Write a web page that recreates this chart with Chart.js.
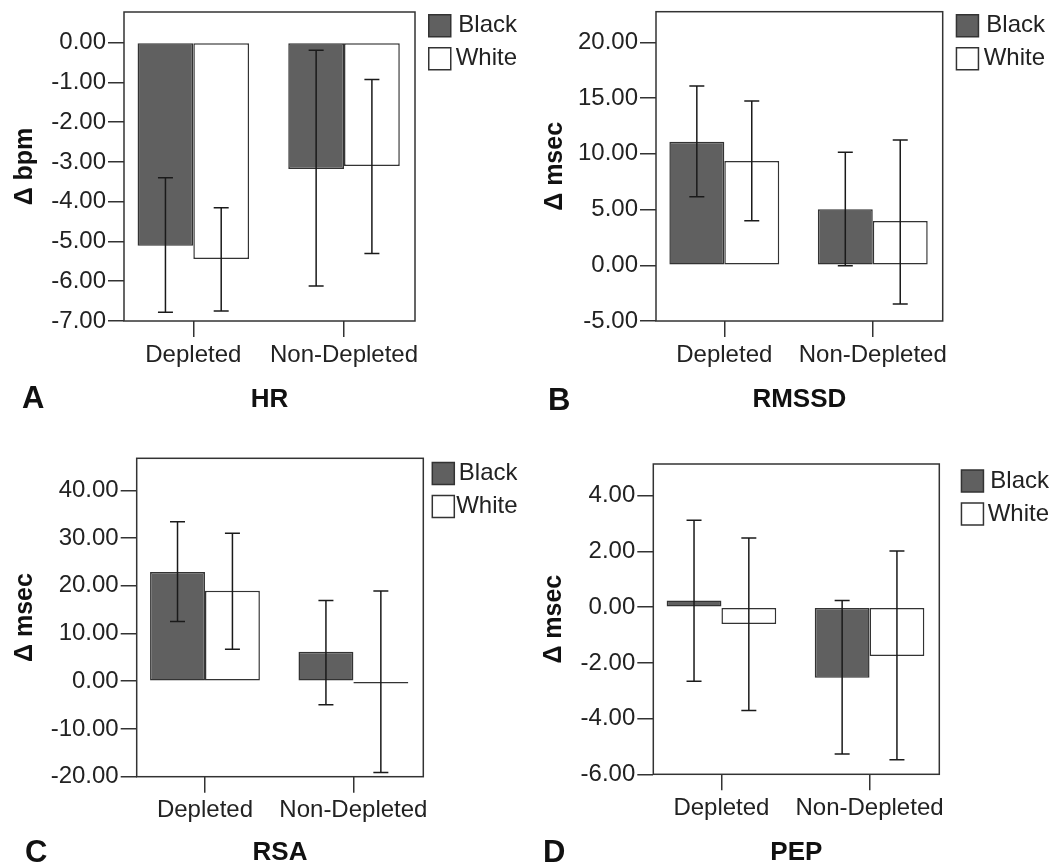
<!DOCTYPE html>
<html>
<head>
<meta charset="utf-8">
<script src="https://cdn.jsdelivr.net/npm/chart.js@4.4.1/dist/chart.umd.min.js"></script>
<style>
  html, body { margin: 0; padding: 0; background: #fff; }
  #page { position: relative; width: 1058px; height: 868px; overflow: hidden; background: #fff; }
  .panel { position: absolute; }
  .panel canvas { display: block; }
  .letter { position: absolute; font: bold 31px "Liberation Sans", Arial, sans-serif; line-height: 31px; color: #111; }
</style>
</head>
<body>
<div id="page">
  <div class="panel" style="left:0;top:0"><canvas id="hr" width="530" height="430"></canvas></div>
  <div class="panel" style="left:530px;top:0"><canvas id="rmssd" width="528" height="430"></canvas></div>
  <div class="panel" style="left:0;top:430px"><canvas id="rsa" width="530" height="438"></canvas></div>
  <div class="panel" style="left:530px;top:430px"><canvas id="pep" width="528" height="438"></canvas></div>
  <div class="letter" style="left:22px;top:382px">A</div>
  <div class="letter" style="left:548px;top:384px">B</div>
  <div class="letter" style="left:25px;top:836px">C</div>
  <div class="letter" style="left:543px;top:836px">D</div>
</div>
<script>
const groups = ["Depleted", "Non-Depleted"];
const groupTicks = [0, 1];

// HR, change in bpm
const hrBlack = [-5.11, -3.18];
const hrWhite = [-5.44, -3.10];
const hrBlackLow = [-6.78, -6.12];
const hrBlackHigh = [-3.40, -0.19];
const hrWhiteLow = [-6.75, -5.30];
const hrWhiteHigh = [-4.15, -0.93];
const hrTicks = [-7, -6, -5, -4, -3, -2, -1, 0];

// RMSSD, change in msec
const rmssdBlack = [11.08, 5.02];
const rmssdWhite = [9.35, 3.97];
const rmssdBlackLow = [6.15, -0.05];
const rmssdBlackHigh = [16.08, 10.13];
const rmssdWhiteLow = [4.00, -3.48];
const rmssdWhiteHigh = [14.73, 11.23];
const rmssdTicks = [-5, 0, 5, 10, 15, 20];

// RSA, change in msec
const rsaBlack = [22.9, 6.2];
const rsaWhite = [18.95, -0.45];
const rsaBlackLow = [12.5, -4.95];
const rsaBlackHigh = [33.4, 16.9];
const rsaWhiteLow = [6.7, -19.1];
const rsaWhiteHigh = [31.0, 18.9];
const rsaTicks = [-20, -10, 0, 10, 20, 30, 40];

// PEP, change in msec
const pepBlack = [0.24, -2.53];
const pepWhite = [-0.60, -1.75];
const pepBlackLow = [-2.66, -5.27];
const pepBlackHigh = [3.12, 0.24];
const pepWhiteLow = [-3.71, -5.48];
const pepWhiteHigh = [2.48, 2.02];
const pepTicks = [-6, -4, -2, 0, 2, 4];

const FONT = '"Liberation Sans", Arial, sans-serif';
Chart.defaults.font.family = FONT;
Chart.defaults.color = "#222";

// box round the plot area
const frame = {
  id: "frame",
  afterDatasetsDraw(chart) {
    const { ctx, chartArea: a } = chart;
    ctx.save();
    ctx.strokeStyle = "#333";
    ctx.lineWidth = 1.5;
    ctx.strokeRect(a.left, a.top, a.right - a.left, a.bottom - a.top);
    ctx.restore();
  }
};

// whiskers from errLow / errHigh on each dataset
const errorBars = {
  id: "errorBars",
  afterDatasetsDraw(chart) {
    const { ctx } = chart;
    const y = chart.scales.y;
    ctx.save();
    ctx.strokeStyle = "#1a1a1a";
    ctx.lineWidth = 1.5;
    chart.data.datasets.forEach((ds, i) => {
      chart.getDatasetMeta(i).data.forEach((bar, j) => {
        const lo = y.getPixelForValue(ds.errLow[j]);
        const hi = y.getPixelForValue(ds.errHigh[j]);
        ctx.beginPath();
        ctx.moveTo(bar.x, lo); ctx.lineTo(bar.x, hi);
        ctx.moveTo(bar.x - 7.5, lo); ctx.lineTo(bar.x + 7.5, lo);
        ctx.moveTo(bar.x - 7.5, hi); ctx.lineTo(bar.x + 7.5, hi);
        ctx.stroke();
      });
    });
    ctx.restore();
  }
};

function panel(id, title, yTitle, yMin, yMax, yTicks, black, white, err, box) {
  const [L, T, R, B] = box.area;
  const padTop = box.boxTop - 9.25;
  const spacer = T - padTop;
  const legendLeft = Math.max(box.boxLeft + 0.75 - 9, R);
  const gap = legendLeft - R;
  const toXY = arr => arr.map((v, i) => ({ x: groupTicks[i], y: v }));

  new Chart(document.getElementById(id), {
    type: "bar",
    data: {
      datasets: [
        {
          label: "Black",
          data: toXY(black),
          errLow: err[0], errHigh: err[1],
          backgroundColor: "#606060",
          borderColor: "#333",
          borderWidth: 1.5,
          borderSkipped: false,
          yAxisID: "y"
        },
        {
          label: "White",
          data: toXY(white),
          errLow: err[2], errHigh: err[3],
          backgroundColor: "#ffffff",
          borderColor: "#333",
          borderWidth: 1.5,
          borderSkipped: false,
          yAxisID: "y"
        }
      ]
    },
    options: {
      responsive: false,
      animation: false,
      events: [],
      categoryPercentage: 0.74,
      barPercentage: 1,
      layout: { padding: { top: padTop, right: box.W - box.textRight, bottom: 0, left: 0 } },
      plugins: {
        tooltip: { enabled: false },
        title: {
          display: spacer > 0, text: "", fullSize: false, padding: 0,
          font: { size: Math.max(spacer, 0.1), lineHeight: 1 }
        },
        legend: {
          position: "right",
          align: "start",
          maxWidth: box.textRight - legendLeft,
          labels: {
            boxWidth: 22, boxHeight: 22, padding: 9,
            textAlign: "right", color: "#222",
            font: { size: 24 }
          }
        }
      },
      scales: {
        x: {
          type: "linear",
          position: "bottom",
          bounds: "data",
          offset: false,
          min: -0.46,
          max: 1.471,
          afterBuildTicks: s => { s.ticks = groupTicks.map(v => ({ value: v })); },
          ticks: {
            callback: v => groups[v],
            autoSkip: false, maxRotation: 0, padding: 3.6,
            font: { size: 24 }, color: "#222"
          },
          grid: { offset: false, drawOnChartArea: false, tickLength: 16, color: "#333", lineWidth: 1.5 },
          border: { display: false },
          title: {
            display: true, text: title, color: "#111",
            font: { size: 26, weight: "bold" },
            padding: { top: 0, bottom: box.H - box.titleY - 15.6 }
          },
          afterFit: s => { s.height = box.H - B; s.paddingLeft = 0; s.paddingRight = 0; }
        },
        y: {
          type: "linear",
          position: "left",
          bounds: "data",
          min: yMin,
          max: yMax,
          afterBuildTicks: s => { s.ticks = yTicks.map(v => ({ value: v })); },
          ticks: {
            callback: v => v.toFixed(2),
            padding: 2,
            font: { size: 24 }, color: "#222"
          },
          grid: { drawOnChartArea: false, tickLength: 16, color: "#333", lineWidth: 1.5 },
          border: { display: false },
          title: {
            display: true, text: yTitle, color: "#111",
            font: { size: 25, weight: "bold" },
            padding: { top: box.yTitleX - 15, bottom: 0 }
          },
          afterFit: s => { s.width = L; s.paddingTop = 0; s.paddingBottom = 0; }
        },
        gap: {
          type: "linear",
          position: "right",
          display: gap > 0,
          grid: { display: false },
          ticks: { display: false },
          border: { display: false },
          afterFit: s => { s.width = gap; s.paddingTop = 0; s.paddingBottom = 0; }
        }
      }
    },
    plugins: [frame, errorBars]
  });
}

panel("hr", "HR", "\u0394 bpm", -7, 0.77, hrTicks, hrBlack, hrWhite,
  [hrBlackLow, hrBlackHigh, hrWhiteLow, hrWhiteHigh],
  { W: 530, H: 430, area: [124, 12, 415, 321], boxTop: 14, boxLeft: 428, textRight: 517, titleY: 400, yTitleX: 25 });

panel("rmssd", "RMSSD", "\u0394 msec", -5, 22.75, rmssdTicks, rmssdBlack, rmssdWhite,
  [rmssdBlackLow, rmssdBlackHigh, rmssdWhiteLow, rmssdWhiteHigh],
  { W: 528, H: 430, area: [126, 11.7, 412.7, 321], boxTop: 14, boxLeft: 425.7, textRight: 515, titleY: 400, yTitleX: 25 });

panel("rsa", "RSA", "\u0394 msec", -20, 46.7, rsaTicks, rsaBlack, rsaWhite,
  [rsaBlackLow, rsaBlackHigh, rsaWhiteLow, rsaWhiteHigh],
  { W: 530, H: 438, area: [136.7, 28.3, 423.3, 346.7], boxTop: 31.7, boxLeft: 430, textRight: 517.5, titleY: 423.3, yTitleX: 25 });

panel("pep", "PEP", "\u0394 msec", -6, 5.14, pepTicks, pepBlack, pepWhite,
  [pepBlackLow, pepBlackHigh, pepWhiteLow, pepWhiteHigh],
  { W: 528, H: 438, area: [123.3, 34, 409.3, 344.3], boxTop: 39.3, boxLeft: 430.7, textRight: 519, titleY: 422.5, yTitleX: 24.4 });
</script>
</body>
</html>
